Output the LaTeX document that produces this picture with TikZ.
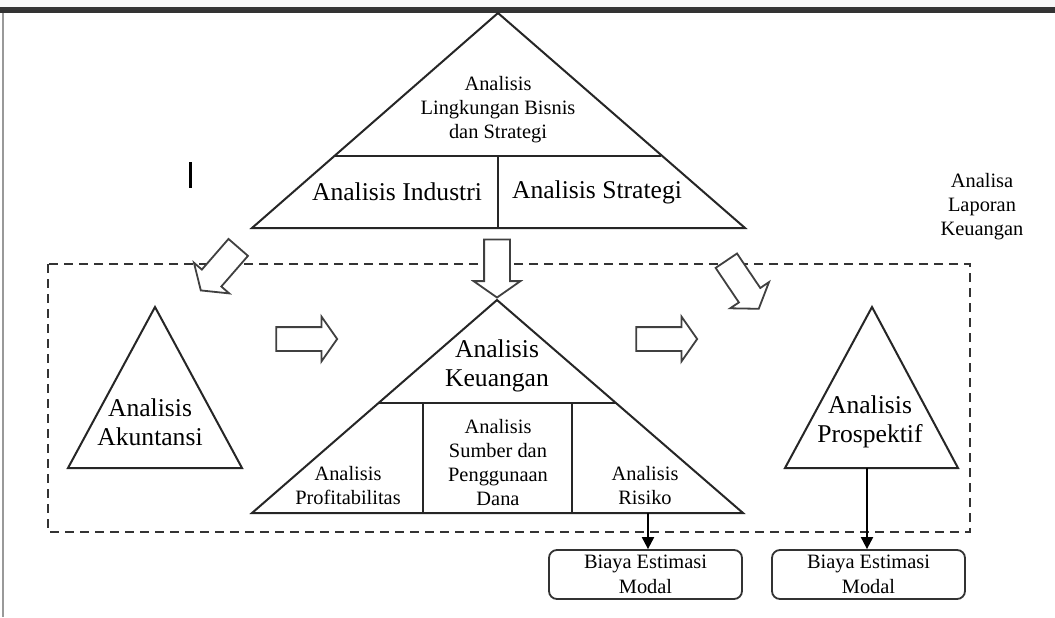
\documentclass[tikz,border=0pt]{standalone}
\usepackage{fontspec}
\setmainfont{Liberation Serif}
\usepackage{tikz}
\usetikzlibrary{shapes.arrows, arrows.meta}
\tikzstyle{bigtext} = [font=\fontsize{12.8}{14.5}\selectfont, align=center, inner sep=0pt]
\tikzstyle{smalltext} = [font=\fontsize{10.2}{12}\selectfont, align=center, inner sep=0pt]
\tikzstyle{tri} = [line width=1pt, draw=black!85]
\tikzstyle{blockarrow} = [single arrow, draw=black!75, line width=0.9pt, fill=white, inner xsep=0pt, inner ysep=6pt, single arrow head extend=5.25pt, single arrow tip angle=110]
\tikzstyle{costbox} = [rectangle, rounded corners=4pt, draw=black!80, line width=0.9pt, minimum width=96.5pt, minimum height=24.5pt, font=\fontsize{10.2}{12.5}\selectfont, align=center, inner sep=0pt]
\tikzstyle{arrow} = [line width=1pt, -{Triangle[length=6pt,width=6pt]}]

\begin{document}
\begin{tikzpicture}[x=0.5pt, y=-0.5pt]
\useasboundingbox (0,0) rectangle (1055,617);
\fill[white] (0,0) rectangle (1055,617);
\fill[black!3] (0,0) rectangle (1055,7);
\fill[black!80] (0,7) rectangle (1055,13);
\draw[black!40, line width=0.8pt] (3,13) -- (3,617);
\draw[line width=1.5pt] (190,162) -- (190,188);

% Triangles
\coordinate (topapex) at (498,13);
\coordinate (topleft) at (252,228);
\coordinate (topright) at (745,228);
\draw [tri] (topapex) -- (topright) -- (topleft) -- cycle;
\draw [tri] (335,156) -- (661,156);
\draw [tri] (498,156) -- (498,228);

\coordinate (midapex) at (497,300);
\coordinate (midleft) at (252,513);
\coordinate (midright) at (743,513);
\draw [tri] (midapex) -- (midright) -- (midleft) -- cycle;
\draw [tri] (378,403) -- (616,403);
\draw [tri] (423,403) -- (423,513);
\draw [tri] (572,403) -- (572,513);

\draw [tri] (155,307) -- (242,468) -- (68,468) -- cycle;
\draw [tri] (872,307) -- (958,468) -- (785,468) -- cycle;

% Frame
\draw [dashed, dash pattern=on 4.5pt off 3pt, line width=1.2pt, black!80] (48,264) rectangle (970,532);

% Block arrows
\node (bisnisleft) [blockarrow, minimum height=28.5pt, rotate=229] at (222.5,265.5) {};
\node (bisnisdown) [blockarrow, minimum height=29pt, rotate=-90] at (497,264) {};
\node (bisnisright) [blockarrow, minimum height=29pt, rotate=-56] at (740,281) {};
\node (akunkeu) [blockarrow, minimum height=30.5pt, inner ysep=5.5pt] at (302.5,339) {};
\node (keupros) [blockarrow, minimum height=30.5pt, inner ysep=5.5pt] at (662.5,339) {};

% Nodes
\node (lingkungan) [smalltext] at (498,110) {Analisis\\Lingkungan Bisnis\\dan Strategi};
\node (industri) [bigtext] at (397,192) {Analisis Industri};
\node (strategi) [bigtext] at (597,192) {Analisis Strategi};
\node (laporan) [smalltext] at (982,207) {Analisa\\Laporan\\Keuangan};
\node (akuntansi) [bigtext] at (150,422) {Analisis\\Akuntansi};
\node (keuangan) [bigtext] at (497,366) {Analisis\\Keuangan};
\node (prospektif) [bigtext] at (870,422) {Analisis\\Prospektif};
\node (profit) [smalltext] at (348,486) {Analisis\\Profitabilitas};
\node (sumber) [smalltext] at (498,463) {Analisis\\Sumber dan\\Penggunaan\\Dana};
\node (risiko) [smalltext] at (645,486) {Analisis\\Risiko};
\node (biaya1) [costbox] at (645.5,574.5) {Biaya Estimasi\\Modal};
\node (biaya2) [costbox] at (868.5,574.5) {Biaya Estimasi\\Modal};

% Arrows
\coordinate (risikofoot) at (648,513);
\coordinate (prosfoot) at (867,468);
\draw [arrow] (risikofoot) -- (risikofoot |- biaya1.north);
\draw [arrow] (prosfoot) -- (prosfoot |- biaya2.north);
\end{tikzpicture}
\end{document}
